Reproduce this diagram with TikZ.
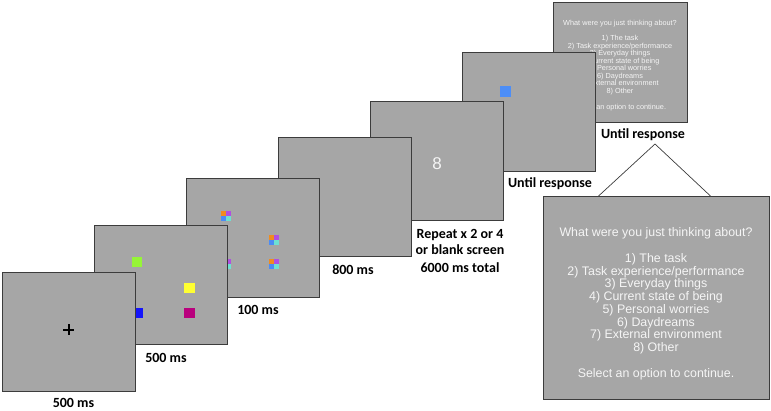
\documentclass[tikz,border=0pt]{standalone}
\usepackage{fontspec}
\newfontfamily\arialf{Liberation Sans}
\newfontfamily\calf{Carlito}
\definecolor{scr}{RGB}{166,166,166}
\definecolor{edge}{RGB}{60,60,60}
\definecolor{txtw}{RGB}{245,245,245}
\definecolor{sqlime}{RGB}{150,245,55}
\definecolor{sqyellow}{RGB}{255,255,50}
\definecolor{sqmag}{RGB}{185,0,125}
\definecolor{sqblue}{RGB}{20,20,250}
\definecolor{mkorange}{RGB}{240,140,30}
\definecolor{mkpurple}{RGB}{175,80,225}
\definecolor{mkblue}{RGB}{75,140,245}
\definecolor{mkcyan}{RGB}{110,225,210}
\definecolor{probe}{RGB}{77,142,247}
\begin{document}
\begin{tikzpicture}[x=1pt,y=-1pt,
  screen/.style={draw=edge,line width=1pt,fill=scr,inner sep=0pt,outer sep=0pt},
  smallscr/.style={screen,minimum width=133pt,minimum height=119pt},
  lab/.style={font=\calf\bfseries\fontsize{14}{16}\selectfont,anchor=base,inner sep=0pt},
  bigq/.style={font=\arialf\fontsize{12.4}{12.7}\selectfont,text=txtw,anchor=base,inner sep=0pt},
  smallq/.style={font=\arialf\fontsize{7.3}{7.6}\selectfont,text=txtw,anchor=base,inner sep=0pt},
  sq/.style={inner sep=0pt,outer sep=0pt,minimum size=#1},
  tri/.style={draw=edge,line width=0.7pt}]
\useasboundingbox (0,0) rectangle (771,410);

% screen 7 (question, small)
\node[screen,minimum width=134pt,minimum height=120pt] (s7) at (620,62) {};
\node[smallq] (s7t) at (620,25.5) {What were you just thinking about?};
\foreach \t [count=\i] in {1) The task,2) Task experience/performance,3) Everyday things,4) Current state of being,5) Personal worries,6) Daydreams,7) External environment,8) Other}
  \node[smallq] (s7l\i) at (620,{40.5+7.57*(\i-1)}) {\t};
\node[smallq] (s7s) at (620,109.5) {Select an option to continue.};

% screen 6 (probe)
\node[smallscr] (s6) at (528.5,111.5) {};
\node[sq=11pt,fill=probe] (probe) at (505.5,91.5) {};

% screen 5 (digit)
\node[smallscr] (s5) at (436.5,161) {};
\node[font=\arialf\fontsize{17}{17}\selectfont,text=txtw,anchor=base,inner sep=0pt] (digit) at (437,169) {8};

% screen 4 (blank)
\node[screen,minimum width=133pt,minimum height=119pt] (s4) at (344.5,197) {};

% screen 3 (masks)
\node[smallscr] (s3) at (252.5,237.5) {};
\foreach \mx/\my [count=\k] in {221/211,269/235,269/259,221/259}{
  \node[sq=5pt,fill=mkorange,anchor=north west] (m\k a) at (\mx,\my) {};
  \node[sq=5pt,fill=mkpurple,anchor=north west] (m\k b) at (\mx+5,\my) {};
  \node[sq=5pt,fill=mkblue,anchor=north west] (m\k c) at (\mx,\my+5) {};
  \node[sq=5pt,fill=mkcyan,anchor=north west] (m\k d) at (\mx+5,\my+5) {};
}

% screen 2 (colour squares)
\node[smallscr] (s2) at (160.5,284.5) {};
\node[sq=10.5pt,fill=sqlime] (c1) at (137.2,262.2) {};
\node[sq=10.5pt,fill=sqyellow] (c2) at (189.5,288) {};
\node[sq=10.5pt,fill=sqmag] (c3) at (189.5,313) {};
\node[sq=10.5pt,fill=sqblue] (c4) at (137.5,313) {};

% screen 1 (fixation)
\node[smallscr] (s1) at (68.5,331.5) {};
\draw[line width=2pt] (s1.center) ++(-5.5,-2) -- ++(11,0);
\draw[line width=2pt] (s1.center) ++(0,-7.5) -- ++(0,11);

% big question screen
\node[screen,minimum width=226pt,minimum height=203pt] (big) at (656,297.5) {};
\node[bigq] (bigt) at (656,236.5) {What were you just thinking about?};
\foreach \t [count=\i] in {1) The task,2) Task experience/performance,3) Everyday things,4) Current state of being,5) Personal worries,6) Daydreams,7) External environment,8) Other}
  \node[bigq] (bl\i) at (656,{262.5+12.7*(\i-1)}) {\t};
\node[bigq] (bigs) at (656,377.5) {Select an option to continue.};

% zoom lines
\coordinate (apex) at (655,144);
\coordinate (zl) at (598,196.5);
\coordinate (zr) at (711,196.5);
\draw[tri] (zl) -- (apex) -- (zr);

% labels
\node[lab] (l1) at (73.5,407.5) {500 ms};
\node[lab] (l2) at (166,362) {500 ms};
\node[lab] (l3) at (258,314) {100 ms};
\node[lab] (l4) at (353,274) {800 ms};
\node[lab] (l5a) at (460,238) {Repeat x 2 or 4};
\node[lab] (l5b) at (460,254.5) {or blank screen};
\node[lab] (l5c) at (460,272) {6000 ms total};
\node[lab] (l6) at (550,187.5) {Until response};
\node[lab] (l7) at (643,138.5) {Until response};
\end{tikzpicture}
\end{document}
